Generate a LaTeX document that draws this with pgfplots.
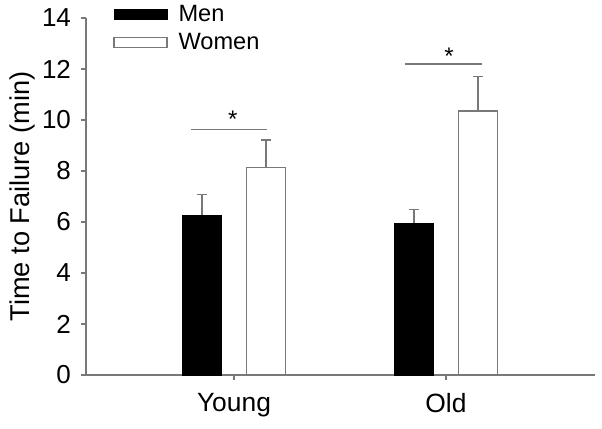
\documentclass[border=0pt]{standalone}
\usepackage{pgfplots}
\pgfplotsset{compat=1.18}
\usepackage{fontspec}
\setmainfont{Liberation Sans}
\definecolor{axgray}{RGB}{120,120,120}
\begin{document}
\begin{tikzpicture}
\begin{axis}[
  at={(0,0)}, anchor=south west,
  scale only axis,
  width=254.5pt, height=178.5pt,
  xmin=0.302, xmax=2.703,
  ymin=0, ymax=14,
  axis x line*=bottom, axis y line*=left,
  axis line style={axgray, line width=0.6pt},
  xtick={1,2}, xticklabels={Young,Old},
  x tick label style={font=\fontsize{13.2}{15}\selectfont, yshift=-3pt},
  x tick style={axgray, line width=0.6pt},
  xtick align=outside,
  ytick={0,2,...,14},
  ytick align=outside,
  major tick length=2.5pt,
  y tick style={axgray, line width=0.6pt},
  y tick label style={font=\fontsize{13}{15}\selectfont, xshift=-1.5pt},
  /pgf/number format/assume math mode=true,
  ylabel={Time to Failure (min)},
  ylabel style={font=\fontsize{13.6}{15}\selectfont, yshift=-3.5pt},
  every axis y label/.append style={at={(ticklabel cs:0.5)}},
  ybar,
  bar width=19.5pt,
  legend style={at={(rel axis cs:0.053,1.049)}, anchor=north west, draw=none, fill=none,
    inner sep=0pt, row sep=0.5pt, font=\fontsize{11.8}{13}\selectfont},
  legend cell align=left,
  legend image code/.code={\draw[#1] (0pt,-2.5pt) rectangle (26.5pt,2.5pt);},
  clip=false,
]
\addplot+[bar shift=-16pt, fill=black, draw=black, line width=0.4pt,
  error bars/.cd, y dir=plus, y explicit,
  error bar style={axgray, line width=0.7pt},
  error mark options={rotate=90, mark size=2.5pt, axgray, line width=0.7pt}]
  coordinates {(1,6.27) +- (0,0.80) (2,5.96) +- (0,0.52)};
\addlegendentry{\hspace{3.5pt}Men}
\addplot+[bar shift=16pt, fill=white, draw=axgray, line width=0.6pt,
  error bars/.cd, y dir=plus, y explicit,
  error bar style={axgray, line width=0.7pt},
  error mark options={rotate=90, mark size=2.5pt, axgray, line width=0.7pt}]
  coordinates {(1,8.14) +- (0,1.08) (2,10.35) +- (0,1.36)};
\addlegendentry{\hspace{3.5pt}Women}
\addplot[sharp plot, no marks, axgray, line width=0.8pt, forget plot] coordinates {(0.797,9.62) (1.154,9.62)};
\addplot[sharp plot, no marks, axgray, line width=0.8pt, forget plot] coordinates {(1.807,12.2) (2.170,12.2)};
\node[anchor=base, font=\fontsize{12}{13}\selectfont, inner sep=0pt] at (axis cs:0.994,9.72) {*};
\node[anchor=base, font=\fontsize{12}{13}\selectfont, inner sep=0pt] at (axis cs:2.014,12.18) {*};
\end{axis}
\pgfresetboundingbox
\path (-43pt,-27pt) rectangle (258pt,187.5pt);
\end{tikzpicture}
\end{document}
